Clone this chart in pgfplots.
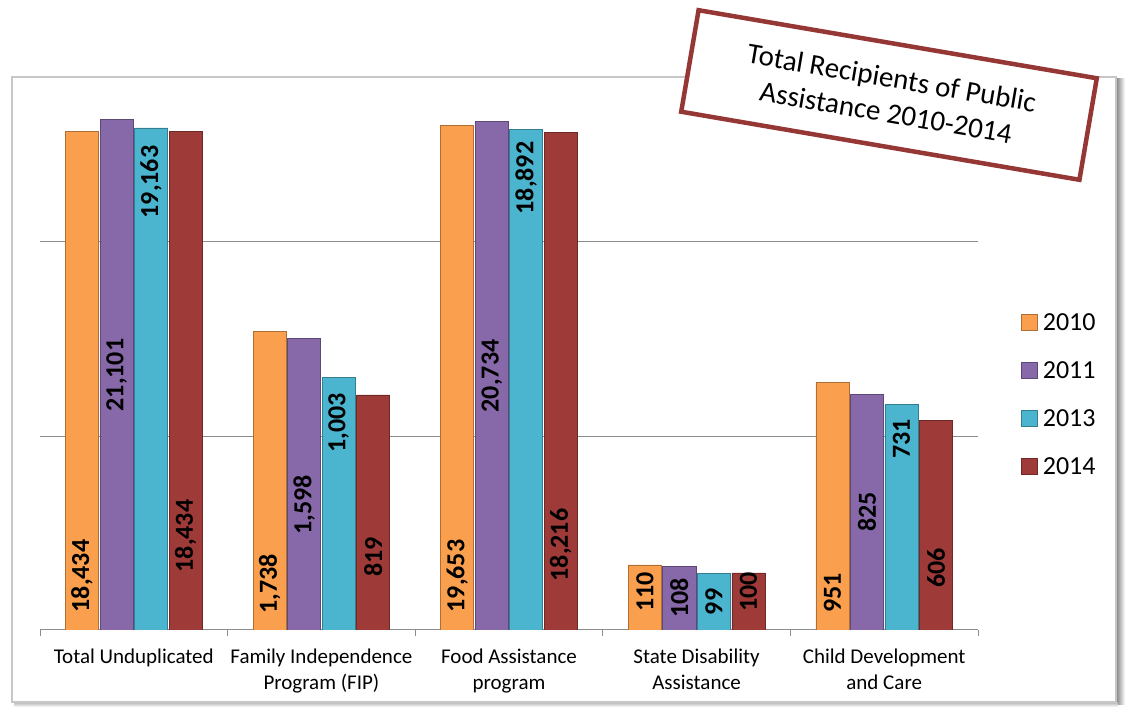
\documentclass[border=0pt]{standalone}
\usepackage{fontspec}
\setmainfont{Carlito}
\usepackage{pgfplots}
\usepackage{pgfplotstable}
\pgfplotsset{compat=1.18}

\definecolor{cOra}{HTML}{F99F4D}
\definecolor{cPur}{HTML}{8768A9}
\definecolor{cCya}{HTML}{4BB4CF}
\definecolor{cRed}{HTML}{9E3A38}
\definecolor{cBox}{HTML}{953735}

% x = category, val = bar value, pos = where the label sits, lab = label text
\pgfplotstableread{
x val pos lab
0 18434 96.5 18,434
1 1738 87.8 1,738
2 19653 96.5 19,653
3 110 79.9 110
4 951 79.0 951
}\tA
\pgfplotstableread{
x val pos lab
0 21101 1036 21,101
1 1598 223.2 1,598
2 20734 1024 20,734
3 108 74.4 108
4 825 205.5 825
}\tB
\pgfplotstableread{
x val pos lab
0 19163 10118 19,163
1 1003 587.7 1,003
2 18892 10607 18,892
3 99 71.0 99
4 731 486.7 731
}\tC
\pgfplotstableread{
x val pos lab
0 18434 154.7 18,434
1 819 120.8 819
2 18216 139.2 18,216
3 100 79.9 100
4 606 106.1 606
}\tD

\newcommand{\lbl}{\fontsize{26}{26}\selectfont\bfseries}
\pgfplotsset{
  barsty/.style={ybar, bar width=0.176, line width=0.7pt,
    draw=#1!70!black, fill=#1},
  labsty/.style={forget plot, draw=none, mark=none, nodes near coords,
    point meta=explicit symbolic,
    nodes near coords style={rotate=90, anchor=center, inner sep=0pt, font=\lbl, text=black}},
}

\begin{document}
\begin{tikzpicture}[x=1pt,y=1pt]
\useasboundingbox (0,0) rectangle (1127,707);
\fill[white] (0,0) rectangle (1127,707);
\shade[left color=black!60, right color=white] (1114,3) rectangle (1125,628);
\shade[top color=black!30, bottom color=white] (14,0) rectangle (1118,5);
\draw[black!22, line width=1.2pt, fill=white] (12,5) rectangle (1116,630);

\begin{axis}[
  at={(40pt,77pt)}, anchor=south west,
  scale only axis, width=938pt, height=548.13pt,
  xmin=-0.5, xmax=4.5,
  ymode=log, ymin=51, ymax=33000, log origin=infty,
  axis x line*=bottom, axis y line*=left,
  y axis line style={draw=none},
  x axis line style={draw=black!45, line width=1pt},
  xtick={-0.5,0.5,1.5,2.5,3.5,4.5},
  x tick label as interval,
  xticklabels={Total Unduplicated, {Family Independence\\Program (FIP)},
    {Food Assistance\\program}, {State Disability\\Assistance},
    {Child Development\\and Care}},
  xticklabel style={font=\fontsize{21}{26}\selectfont, align=center, yshift=-9pt},
  xtick style={draw=black!45, line width=1pt},
  tick align=outside, major tick length=6pt,
  ytick={500,5000}, yticklabels={}, ytick style={draw=none},
  ymajorgrids, major grid style={draw=black!45, line width=1pt},
  legend style={at={(1.0458,0.5765)}, anchor=north west, draw=none, fill=none,
    inner sep=0pt, row sep=31.4pt, font=\fontsize{26}{26}\selectfont,
    nodes={inner sep=0pt, text height=16pt, text depth=0pt},
    /tikz/every odd column/.append style={column sep=5pt}},
  legend cell align=left,
  legend image code/.code={\draw[#1,/tikz/.cd] (0pt,-8pt) rectangle (16pt,8pt);},
]
\addplot[barsty=cOra, bar shift=-0.276] table[x=x, y=val] {\tA};
\addplot[barsty=cPur, bar shift=-0.092] table[x=x, y=val] {\tB};
\addplot[barsty=cCya, bar shift=0.092] table[x=x, y=val] {\tC};
\addplot[barsty=cRed, bar shift=0.276] table[x=x, y=val] {\tD};
\legend{2010,2011,2013,2014}

\addplot[labsty] table[x expr=\thisrow{x}-0.276, y=pos, meta=lab] {\tA};
\addplot[labsty] table[x expr=\thisrow{x}-0.092, y=pos, meta=lab] {\tB};
\addplot[labsty] table[x expr=\thisrow{x}+0.092, y=pos, meta=lab] {\tC};
\addplot[labsty] table[x expr=\thisrow{x}+0.276, y=pos, meta=lab] {\tD};
\end{axis}

\node[rotate=-9.7, draw=cBox, line width=4.5pt, fill=white,
  minimum width=404pt, minimum height=103pt, align=center,
  font=\fontsize{29}{35}\selectfont] at (889,612)
  {Total Recipients of Public\\Assistance 2010-2014};
\end{tikzpicture}
\end{document}
